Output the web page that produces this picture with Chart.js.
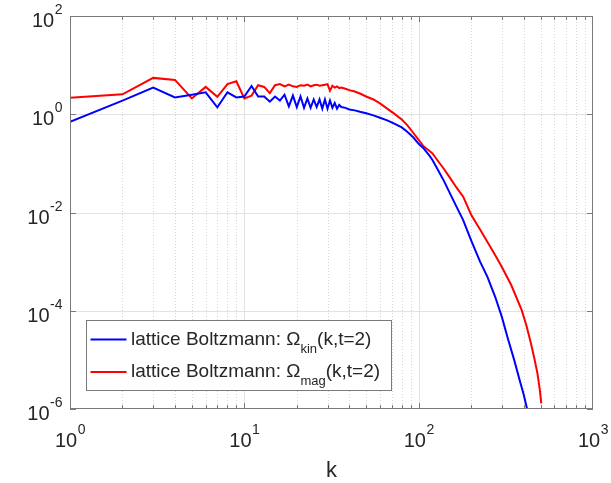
<!DOCTYPE html>
<html>
<head>
<meta charset="utf-8">
<script src="https://cdn.jsdelivr.net/npm/chart.js@4.4.1/dist/chart.umd.min.js"></script>
<style>
  html, body { margin: 0; background: #fff; }
  #wrap { width: 611px; height: 483px; }
</style>
</head>
<body>
<div id="wrap"><canvas id="c"></canvas></div>
<script>
// Omega_kin(k, t=2)
const kinK = [1, 2, 3, 4, 5, 6, 7, 8, 9, 10, 11, 12, 13, 14, 15, 16, 17, 18, 19, 20,
  21, 22, 23, 24, 25, 26, 27, 28, 29, 30, 31, 32, 33, 34, 35, 36, 38, 40, 43, 46,
  50, 55, 60, 66, 72, 80, 86, 93, 100, 107, 115, 120, 130, 140, 150, 165, 180, 200,
  225, 248, 275, 300, 325, 353, 380, 400, 425];
const kinVal = [0.70, 1.9, 3.5, 2.2, 2.5, 2.8, 1.38, 2.8, 2.2, 2.3, 3.75, 2.3, 2.3, 1.8, 2.3, 1.9, 2.5, 1.45, 2.4, 1.4,
  2.3, 1.35, 2.1, 1.35, 2.0, 1.4, 2.0, 1.3, 2.0, 1.3, 1.9, 1.35, 1.7, 1.3, 1.55, 1.4, 1.35, 1.25, 1.2, 1.12,
  1.05, 0.95, 0.85, 0.75, 0.65, 0.54, 0.44, 0.34, 0.25, 0.2, 0.145, 0.117, 0.07, 0.043, 0.026, 0.013, 0.007, 0.0027,
  0.001, 0.00049, 0.00019, 0.000075, 0.000027, 0.00001, 0.0000038, 0.000002, 0.0000008];

// Omega_mag(k, t=2)
const magK = [1, 2, 3, 4, 5, 6, 7, 8, 9, 10, 11, 12, 13, 14, 15, 16, 17, 18, 19, 20,
  21, 22, 23, 24, 25, 26, 27, 28, 29, 30, 31, 32, 33, 34, 35, 36, 38, 40, 43, 46,
  50, 55, 60, 66, 72, 80, 86, 93, 100, 107, 115, 120, 130, 140, 150, 165, 180, 200,
  225, 250, 275, 300, 340, 390, 415, 440, 460, 480, 495, 505];
const magVal = [2.17, 2.54, 5.5, 5.0, 2.1, 3.6, 2.27, 4.1, 4.7, 2.1, 2.4, 3.9, 3.6, 2.7, 3.9, 4.1, 3.7, 4.0, 3.7, 3.6,
  3.9, 3.8, 4.0, 3.7, 3.9, 4.0, 3.8, 3.9, 4.0, 4.1, 3.0, 3.8, 3.5, 3.7, 3.4, 3.5, 3.3, 3.1, 2.9, 2.64,
  2.3, 2.0, 1.66, 1.3, 1.04, 0.78, 0.6, 0.42, 0.3, 0.22, 0.18, 0.16, 0.108, 0.076, 0.053, 0.032, 0.021, 0.009,
  0.0045, 0.0024, 0.00135, 0.00078, 0.00033, 0.000103, 0.00005, 0.000022, 0.000011, 0.0000053, 0.0000025, 0.0000013];

const seriesPrefix = ["lattice Boltzmann: \u03A9", "lattice Boltzmann: \u03A9"];
const seriesSub = ["kin", "mag"];
const seriesSuffix = ["(k,t=2)", "(k,t=2)"];
const seriesColor = ["#0000ff", "#ff0000"];

const xTickVals = [1, 10, 100, 1000];
const xTickExp = ["0", "1", "2", "3"];
const yTickVals = [1e2, 1e0, 1e-2, 1e-4, 1e-6];
const yTickExp = ["2", "0", "-2", "-4", "-6"];
const xTitle = "k";

const FONT = "'Liberation Sans', Arial, Helvetica, sans-serif";
const TEXT = "#262626";
const AXIS = "#7a7a7a";

function toPoints(xs, ys) {
  const out = [];
  for (let i = 0; i < Math.min(xs.length, ys.length); i++) out.push({ x: xs[i], y: ys[i] });
  return out;
}

function pow10Width(ctx, exp) {
  ctx.font = "20px " + FONT;
  const wb = ctx.measureText("10").width;
  ctx.font = "14px " + FONT;
  return { wb, we: ctx.measureText(exp).width };
}

function drawPow10(ctx, exp, left, baseline) {
  ctx.textAlign = "left";
  ctx.textBaseline = "alphabetic";
  ctx.font = "20px " + FONT;
  ctx.fillText("10", left, baseline);
  const wb = ctx.measureText("10").width;
  ctx.font = "14px " + FONT;
  ctx.fillText(exp, left + wb + 0.5, baseline - 13);
}

const matlabAxes = {
  id: "matlabAxes",
  beforeDatasetsDraw(chart) {
    const { ctx, chartArea: a, scales } = chart;
    const xs = scales.x, ys = scales.y;
    ctx.save();
    ctx.lineWidth = 1;
    // minor x grid, dotted
    ctx.strokeStyle = "#d4d4d4";
    ctx.setLineDash([1, 2]);
    for (let d = 1; d < 1000; d *= 10) {
      for (let m = 2; m <= 9; m++) {
        const px = Math.round(xs.getPixelForValue(d * m)) + 0.5;
        ctx.beginPath(); ctx.moveTo(px, a.top); ctx.lineTo(px, a.bottom); ctx.stroke();
      }
    }
    ctx.setLineDash([]);
    // major grid
    ctx.strokeStyle = "#e2e2e2";
    xTickVals.slice(1, -1).forEach(v => {
      const px = Math.round(xs.getPixelForValue(v)) + 0.5;
      ctx.beginPath(); ctx.moveTo(px, a.top); ctx.lineTo(px, a.bottom); ctx.stroke();
    });
    yTickVals.slice(1, -1).forEach(v => {
      const py = Math.round(ys.getPixelForValue(v)) + 0.5;
      ctx.beginPath(); ctx.moveTo(a.left, py); ctx.lineTo(a.right, py); ctx.stroke();
    });
    ctx.restore();
  },
  afterDatasetsDraw(chart) {
    const { ctx, chartArea: a, scales } = chart;
    const xs = scales.x, ys = scales.y;
    ctx.save();
    // box and ticks
    ctx.strokeStyle = AXIS;
    ctx.lineWidth = 1;
    ctx.strokeRect(a.left + 0.5, a.top + 0.5, a.right - a.left - 1, a.bottom - a.top - 1);
    ctx.beginPath();
    for (let d = 1; d < 1000; d *= 10) {
      for (let m = 1; m <= 9; m++) {
        const px = Math.round(xs.getPixelForValue(d * m)) + 0.5;
        const len = m === 1 ? 6 : 4;
        ctx.moveTo(px, a.bottom); ctx.lineTo(px, a.bottom - len);
        ctx.moveTo(px, a.top); ctx.lineTo(px, a.top + len);
      }
    }
    yTickVals.forEach(v => {
      const py = Math.round(ys.getPixelForValue(v)) + 0.5;
      ctx.moveTo(a.left, py); ctx.lineTo(a.left + 6, py);
      ctx.moveTo(a.right, py); ctx.lineTo(a.right - 6, py);
    });
    ctx.stroke();

    // tick labels
    ctx.fillStyle = TEXT;
    xTickVals.forEach((v, i) => {
      const px = xs.getPixelForValue(v);
      const { wb, we } = pow10Width(ctx, xTickExp[i]);
      drawPow10(ctx, xTickExp[i], px - (wb + we) / 2, a.bottom + 38);
    });
    yTickVals.forEach((v, i) => {
      const py = ys.getPixelForValue(v);
      const { wb, we } = pow10Width(ctx, yTickExp[i]);
      drawPow10(ctx, yTickExp[i], a.left - 8 - wb - we, py + 11);
    });
    ctx.font = "22px " + FONT;
    ctx.textAlign = "center";
    ctx.fillText(xTitle, (a.left + a.right) / 2, a.bottom + 68);

    // legend
    const bx = a.left + 16.5, by = a.top + 304.5, bw = 305, bh = 70;
    ctx.fillStyle = "#fff";
    ctx.fillRect(bx, by, bw, bh);
    ctx.strokeStyle = "#7a7a7a";
    ctx.strokeRect(bx, by, bw, bh);
    chart.data.datasets.forEach((ds, i) => {
      const ly = by + 19 + i * 32.5;
      ctx.strokeStyle = ds.borderColor;
      ctx.lineWidth = 2;
      ctx.beginPath(); ctx.moveTo(bx + 4, ly); ctx.lineTo(bx + 40, ly); ctx.stroke();
      ctx.fillStyle = TEXT;
      ctx.textAlign = "left";
      ctx.textBaseline = "alphabetic";
      let tx = bx + 44.5;
      const base = ly + 5;
      ctx.font = "19px " + FONT;
      ctx.fillText(seriesPrefix[i], tx, base);
      tx += ctx.measureText(seriesPrefix[i]).width;
      ctx.font = "13px " + FONT;
      ctx.fillText(seriesSub[i], tx, base + 8);
      tx += ctx.measureText(seriesSub[i]).width;
      ctx.font = "19px " + FONT;
      ctx.fillText(seriesSuffix[i], tx, base);
    });
    ctx.restore();
  },
};

const datasets = [kinK, magK].map((ks, i) => ({
  label: seriesPrefix[i] + seriesSub[i] + seriesSuffix[i],
  data: toPoints(ks, i === 0 ? kinVal : magVal),
  borderColor: seriesColor[i],
  backgroundColor: seriesColor[i],
  borderWidth: 2,
  pointRadius: 0,
  tension: 0,
}));

new Chart(document.getElementById("c"), {
  type: "line",
  data: { datasets },
  options: {
    animation: false,
    responsive: true,
    maintainAspectRatio: false,
    parsing: false,
    layout: { padding: { left: 70, right: 18, top: 16, bottom: 74 } },
    plugins: { legend: { display: false }, tooltip: { enabled: false } },
    scales: {
      x: { type: "logarithmic", min: 1, max: 1000, display: false },
      y: { type: "logarithmic", min: 1e-6, max: 1e2, display: false },
    },
  },
  plugins: [matlabAxes],
});
</script>
</body>
</html>
